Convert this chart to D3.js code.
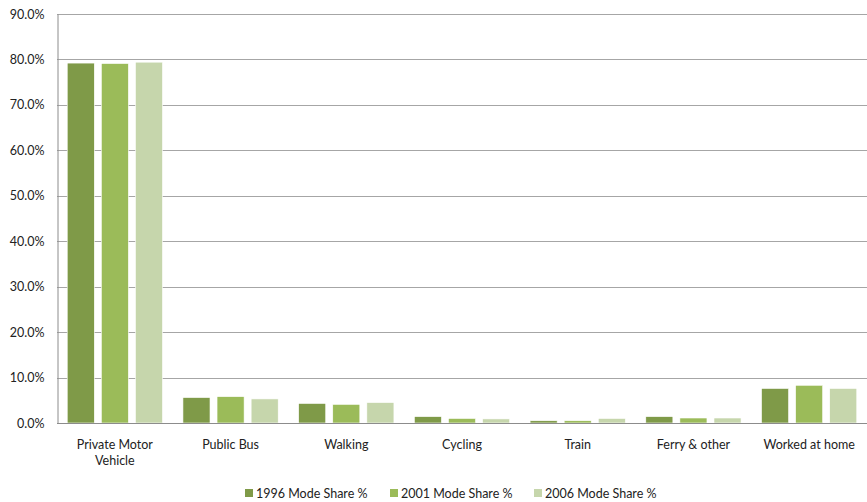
<!DOCTYPE html>
<html>
<head>
<meta charset="utf-8">
<script src="https://cdn.jsdelivr.net/npm/d3@7"></script>
<style>
  body { margin: 0; background: #fff; }
  svg text { font-family: Lato, "Open Sans", sans-serif; fill: #222; }
</style>
</head>
<body>
<div id="chart"></div>
<script>
let width = 867;
let height = 502;

let categories = ['Private Motor Vehicle', 'Public Bus', 'Walking', 'Cycling', 'Train', 'Ferry & other', 'Worked at home'];
let seriesNames = ['1996 Mode Share %', '2001 Mode Share %', '2006 Mode Share %'];
let share1996 = [79.2, 5.6, 4.3, 1.4, 0.5, 1.4, 7.6];
let share2001 = [79.1, 5.8, 4.1, 1.0, 0.5, 1.1, 8.3];
let share2006 = [79.4, 5.3, 4.5, 0.9, 1.0, 1.1, 7.6];
let yTicks = [0, 10, 20, 30, 40, 50, 60, 70, 80, 90];
let colors = ['#7f9a48', '#9bbb59', '#c6d6ac'];

let seriesValues = [share1996, share2001, share2006];
let margin = {top: 14, right: 0, bottom: 79, left: 57};

let svg = d3.select('#chart').append('svg')
    .attr('width', width)
    .attr('height', height);

let x0 = d3.scaleBand()
    .domain(categories)
    .range([margin.left, width - margin.right])
    .padding(0);

let x1 = d3.scaleBand()
    .domain(seriesNames)
    .range([0, x0.bandwidth()])
    .paddingInner(0.206)
    .paddingOuter(0.3);

let y = d3.scaleLinear()
    .domain([0, 90])
    .range([height - margin.bottom, margin.top]);

// gridlines
svg.append('g')
    .selectAll('line')
    .data(yTicks.filter(d => d > 0))
    .enter()
    .append('line')
    .attr('x1', margin.left)
    .attr('x2', width - margin.right)
    .attr('y1', d => Math.round(y(d)) + 0.5)
    .attr('y2', d => Math.round(y(d)) + 0.5)
    .style('stroke', '#a6a6a6')
    .style('stroke-width', 1);

// bars
seriesNames.forEach(function(name, s) {
    svg.append('g')
        .selectAll('rect')
        .data(categories)
        .enter()
        .append('rect')
        .attr('x', d => x0(d) + x1(name))
        .attr('y', (d, i) => y(seriesValues[s][i]))
        .attr('width', x1.bandwidth())
        .attr('height', (d, i) => y(0) - y(seriesValues[s][i]))
        .attr('fill', colors[s])
        .style('stroke', '#fff')
        .style('stroke-width', 0.6);
});

// y axis
let yAxis = svg.append('g')
    .attr('transform', 'translate(' + (margin.left + 0.5) + ',0)')
    .call(d3.axisLeft(y).tickValues(yTicks).tickFormat(d => d.toFixed(1) + '%').tickSize(0).tickPadding(13));
yAxis.select('.domain').style('stroke', '#8c8c8c');
yAxis.selectAll('text').style('font-size', '12.5px').style('fill', '#222');

// x axis baseline
svg.append('line')
    .attr('x1', margin.left)
    .attr('x2', width - margin.right)
    .attr('y1', Math.round(y(0)) + 0.5)
    .attr('y2', Math.round(y(0)) + 0.5)
    .style('stroke', '#8c8c8c');

// category labels
let catLabels = svg.append('g')
    .selectAll('text')
    .data(categories)
    .enter()
    .append('text')
    .attr('x', d => x0(d) + x0.bandwidth() / 2)
    .attr('y', y(0) + 26)
    .attr('text-anchor', 'middle')
    .style('font-size', '12.5px');

catLabels.each(function(d) {
    let lines = d === 'Private Motor Vehicle' ? ['Private Motor', 'Vehicle'] : [d];
    let t = d3.select(this);
    lines.forEach(function(line, i) {
        t.append('tspan')
            .attr('x', x0(d) + x0.bandwidth() / 2)
            .attr('dy', i === 0 ? 0 : 16)
            .text(line);
    });
});

// legend
let legendX = [245, 390, 534];
let legend = svg.append('g');
seriesNames.forEach(function(name, s) {
    legend.append('rect')
        .attr('x', legendX[s])
        .attr('y', 489)
        .attr('width', 8)
        .attr('height', 8)
        .attr('fill', colors[s]);
    legend.append('text')
        .attr('x', legendX[s] + 11)
        .attr('y', 497.5)
        .style('font-size', '12.5px')
        .text(name);
});
</script>
</body>
</html>
